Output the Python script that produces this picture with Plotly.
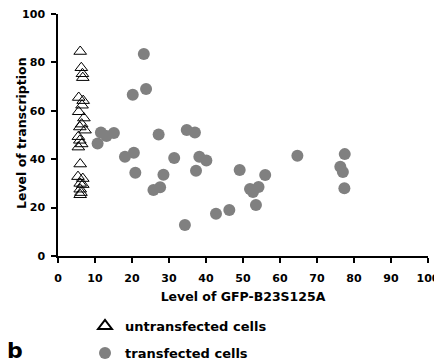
import plotly.graph_objects as go

# untransfected cells (open triangles)
untrans_x = [6.0, 6.3, 6.6, 6.7, 5.6, 6.8, 6.5, 5.6, 7.0, 6.4, 5.9, 7.3, 5.5, 5.9, 6.4, 5.5,
             6.0, 5.4, 6.7, 6.0, 6.7, 6.0, 6.2, 6.0]
untrans_y = [84.5, 77.8, 75.3, 73.7, 65.5, 64.2, 62.3, 59.6, 57.0, 54.5, 53.3, 52.0, 49.3, 47.8, 46.3, 45.0,
             38.0, 32.8, 32.0, 30.0, 29.5, 27.6, 26.2, 25.3]

# transfected cells (grey dots)
trans_x = [10.7, 11.6, 13.1, 15.1, 18.1, 20.5, 20.2, 20.9, 23.2, 23.8, 25.8, 27.6, 27.2, 28.5, 31.4,
           34.3, 34.8, 37.0, 37.3, 38.2, 40.1, 42.7, 46.3, 49.1, 51.9, 52.7, 54.2, 53.5, 56.0, 64.7,
           77.5, 76.3, 77.0, 77.4]
trans_y = [46.5, 51.0, 49.6, 50.8, 41.0, 42.7, 66.6, 34.4, 83.5, 69.0, 27.3, 28.4, 50.2, 33.6, 40.5,
           12.8, 52.1, 51.0, 35.2, 41.0, 39.5, 17.5, 19.0, 35.5, 27.7, 26.4, 28.5, 21.1, 33.5, 41.4,
           42.1, 36.9, 34.7, 28.0]

x_ticks = [0, 10, 20, 30, 40, 50, 60, 70, 80, 90, 100]
y_ticks = [0, 20, 40, 60, 80, 100]

FONT = "DejaVu Sans"

fig = go.Figure()
fig.add_trace(go.Scatter(
    x=untrans_x, y=untrans_y, mode="markers", name="untransfected cells",
    marker=dict(symbol="triangle-up-open", size=11, color="black", line=dict(width=1, color="black")),
    legend="legend",
))
fig.add_trace(go.Scatter(
    x=trans_x, y=trans_y, mode="markers", name="transfected cells",
    marker=dict(symbol="circle", size=12, color="#808080", line=dict(width=0)),
    legend="legend2",
))

axis_common = dict(
    showgrid=False, zeroline=False, showline=True, linecolor="black", linewidth=1.5,
    ticks="outside", ticklen=5, tickwidth=1.5, tickcolor="black",
    tickfont=dict(family=FONT, size=11, color="black", weight="bold"),
    automargin=False, ticklabeloverflow="allow",
)

fig.update_xaxes(range=[0, 100], tickvals=x_ticks, ticklabelstandoff=6,
                 title=dict(text="Level of GFP-B23S125A", standoff=8,
                            font=dict(family=FONT, size=12.5, color="black", weight="bold")),
                 **axis_common)
fig.update_yaxes(range=[0, 100], tickvals=y_ticks, ticklabelstandoff=4, **axis_common)

legend_font = dict(family=FONT, size=13, color="black", weight="bold")
fig.update_layout(
    width=434, height=356,
    margin=dict(l=50, r=14, t=6, b=108, autoexpand=False),
    paper_bgcolor="white", plot_bgcolor="white",
    showlegend=True,
    legend=dict(xref="paper", yref="paper", x=(85 - 58) / 370, y=(256 - 326) / 242,
                xanchor="left", yanchor="middle", font=legend_font, bgcolor="rgba(0,0,0,0)",
                itemsizing="constant"),
    legend2=dict(xref="paper", yref="paper", x=(85 - 58) / 370, y=(256 - 353) / 242,
                 xanchor="left", yanchor="middle", font=legend_font, bgcolor="rgba(0,0,0,0)",
                 itemsizing="constant"),
    annotations=[
        dict(text="Level of transcription", xref="paper", yref="paper",
             x=(21 - 58) / 370, y=(256 - 133) / 242, textangle=-90,
             showarrow=False, xanchor="center", yanchor="middle",
             font=dict(family=FONT, size=12.5, color="black", weight="bold")),
        dict(text="b", xref="paper", yref="paper", x=(15 - 58) / 370, y=(256 - 350) / 242,
             showarrow=False, xanchor="center", yanchor="middle",
             font=dict(family=FONT, size=22, color="black", weight="bold")),
    ],
)

fig.write_html("out.html")
